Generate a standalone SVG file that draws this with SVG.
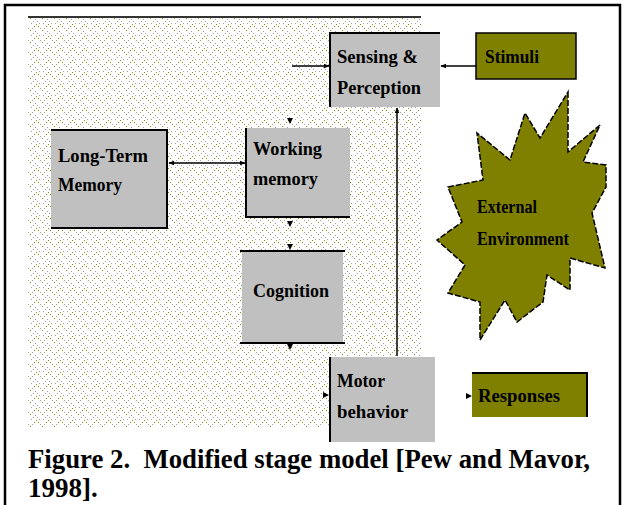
<svg xmlns="http://www.w3.org/2000/svg" width="624" height="505" viewBox="0 0 624 505">
<defs>
<pattern id="weave" width="12" height="12" patternUnits="userSpaceOnUse">
<rect width="12" height="12" fill="#ffffff"/>
<g fill="#8a8a10">
<rect x="0" y="0" width="1" height="1"/><rect x="2" y="2" width="1" height="1"/>
<rect x="6" y="6" width="1" height="1"/><rect x="10" y="2" width="1" height="1"/>
</g>
<g fill="#a0a0a0">
<rect x="1" y="9" width="1" height="1"/><rect x="3" y="11" width="1" height="1"/>
<rect x="7" y="11" width="1" height="1"/><rect x="9" y="9" width="1" height="1"/><rect x="11" y="7" width="1" height="1"/>
<rect x="4" y="4" width="1" height="1"/><rect x="8" y="4" width="1" height="1"/>
</g>
</pattern>
<marker id="ah" viewBox="0 0 10 10" refX="9" refY="5" markerWidth="6" markerHeight="6" orient="auto-start-reverse" markerUnits="userSpaceOnUse">
<path d="M0,1 L10,5 L0,9 Z" fill="#000"/>
</marker>
<style>
.lbl{font-family:"Liberation Serif","Times New Roman",serif;font-size:19px;font-weight:bold;fill:#000}
.cap{font-family:"Liberation Serif","Times New Roman",serif;font-size:27px;font-weight:bold;fill:#000;white-space:pre}
.gray{fill:#c0c0c0}
.olive{fill:#808000}
.edge{stroke:#000;stroke-width:2;fill:none}
.conn{stroke:#000;stroke-width:1.5;fill:none}
.tick{fill:#000}
</style>
</defs>
<rect x="0" y="0" width="624" height="505" fill="#ffffff"/>
<rect x="5" y="5" width="615" height="520" fill="none" stroke="#000" stroke-width="2.5"/>
<g id="background">
<rect x="28" y="18" width="393" height="409" fill="url(#weave)"/>
<line x1="28" y1="17" x2="421" y2="17" stroke="#333" stroke-width="2"/>
</g>
<g id="sensing">
<rect class="gray" x="330" y="33" width="110" height="74"/>
<path class="edge" d="M330,107 V33 H440"/>
<text class="lbl" x="337" y="63" textLength="81" lengthAdjust="spacingAndGlyphs">Sensing &amp;</text>
<text class="lbl" x="337" y="94" textLength="84" lengthAdjust="spacingAndGlyphs">Perception</text>
</g>
<g id="stimuli">
<rect class="olive" x="476" y="33" width="100" height="46"/>
<rect x="476" y="33" width="100" height="46" fill="none" stroke="#000" stroke-width="1.5"/>
<text class="lbl" x="485" y="63" textLength="54" lengthAdjust="spacingAndGlyphs">Stimuli</text>
</g>
<g id="ltm">
<rect class="gray" x="51" y="130" width="116" height="98"/>
<path class="edge" d="M51,130 H167 V228 H51"/>
<text class="lbl" x="58" y="162" textLength="90" lengthAdjust="spacingAndGlyphs">Long-Term</text>
<text class="lbl" x="58" y="191" textLength="64" lengthAdjust="spacingAndGlyphs">Memory</text>
</g>
<g id="working">
<rect class="gray" x="246" y="128" width="104" height="89"/>
<path class="edge" d="M246,128 V217 H350"/>
<text class="lbl" x="253" y="155" textLength="69" lengthAdjust="spacingAndGlyphs">Working</text>
<text class="lbl" x="253" y="185" textLength="65" lengthAdjust="spacingAndGlyphs">memory</text>
</g>
<g id="cognition">
<rect class="gray" x="242" y="251" width="101" height="92"/>
<path class="edge" d="M240,251 H345 M240,343 H345"/>
<text class="lbl" x="253" y="297" textLength="76" lengthAdjust="spacingAndGlyphs">Cognition</text>
</g>
<g id="motor">
<rect class="gray" x="330" y="357" width="105" height="85"/>
<path class="edge" d="M330,357 V442"/>
<text class="lbl" x="337" y="387" textLength="48" lengthAdjust="spacingAndGlyphs">Motor</text>
<text class="lbl" x="337" y="418" textLength="71" lengthAdjust="spacingAndGlyphs">behavior</text>
</g>
<g id="responses">
<rect class="olive" x="472" y="373" width="115" height="44"/>
<path class="edge" d="M472,373 H587 V417"/>
<text class="lbl" x="478" y="402" textLength="82" lengthAdjust="spacingAndGlyphs">Responses</text>
</g>
<g id="environment">
<polygon class="olive" stroke="#000" stroke-width="1.5" stroke-dasharray="6,2" points="568,92 568,152 600,125 583,162 606,165 606,187 592,213 605,268 570,258 570,290 547,275 543,302 517,322 505,300 480,340 480,302 448,293 465,265 437,240 462,222 448,187 483,180 477,133 510,160 525,113 540,138"/>
<text class="lbl" x="477" y="213" textLength="60" lengthAdjust="spacingAndGlyphs">External</text>
<text class="lbl" x="477" y="245" textLength="92" lengthAdjust="spacingAndGlyphs">Environment</text>
</g>
<g id="connectors">
<line class="conn" x1="169" y1="163" x2="245" y2="163" marker-start="url(#ah)" marker-end="url(#ah)"/>
<line class="conn" x1="292" y1="66" x2="329" y2="66" marker-end="url(#ah)"/>
<line class="conn" x1="476" y1="66" x2="441" y2="66" marker-end="url(#ah)"/>
<line class="conn" x1="397" y1="356" x2="397" y2="108" marker-end="url(#ah)"/>
<path class="tick" d="M287,118 L293,118 L290,124 Z"/>
<path class="tick" d="M287,221 L293,221 L290,227 Z"/>
<path class="tick" d="M287,244 L293,244 L290,250 Z"/>
<path class="tick" d="M287,344 L293,344 L290,350 Z"/>
<path class="tick" d="M323,392 L329,395 L323,398 Z"/>
<path class="tick" d="M466,393 L472,396 L466,399 Z"/>
</g>
<text class="cap" x="28" y="468" textLength="562" lengthAdjust="spacingAndGlyphs" xml:space="preserve">Figure 2.  Modified stage model [Pew and Mavor,</text>
<text class="cap" x="28" y="497">1998].</text>
</svg>
